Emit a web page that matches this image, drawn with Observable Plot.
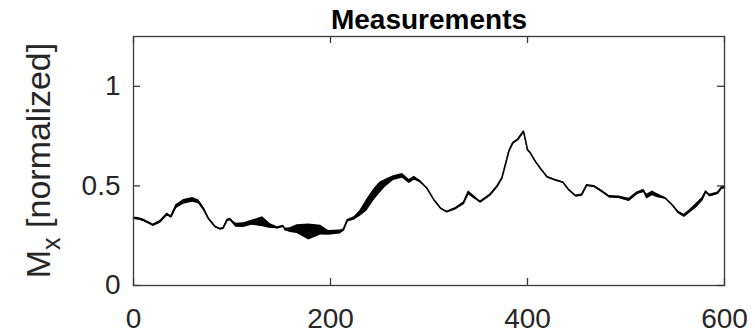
<!DOCTYPE html>
<html>
<head>
<meta charset="utf-8">
<script src="https://cdn.jsdelivr.net/npm/d3@7"></script>
<script src="https://cdn.jsdelivr.net/npm/@observablehq/plot@0.6"></script>
<style>
  html, body { margin: 0; padding: 0; background: white; }
</style>
</head>
<body>
<div id="chart"></div>
<script>
// sample positions (x) of the measurement trace
const xs = [0,5,10,20,27,34,38,43,51,60,66,71,76,83,88,91,95,98,104,112,120,131,139,146,152,154,159,166,178,190,198,210,213,217,224,230,237,244,250,256,264,273,280,285,291,298,305,312,318,327,335,340,345,352,362,369,374,378,381,385,390,396,400,403,408,413,420,428,436,442,449,455,460,468,476,483,493,503,511,518,521,527,532,540,547,553,559,564,572,577,581,585,593,597,600];
// normalized Mx value (centre of trace)
const mx = [0.338,0.335,0.328,0.303,0.32,0.358,0.345,0.395,0.42,0.43,0.42,0.387,0.337,0.295,0.284,0.288,0.328,0.332,0.303,0.303,0.315,0.32,0.298,0.29,0.298,0.281,0.278,0.283,0.269,0.278,0.264,0.269,0.278,0.325,0.337,0.362,0.404,0.455,0.49,0.514,0.539,0.55,0.522,0.539,0.522,0.488,0.43,0.387,0.37,0.387,0.413,0.466,0.446,0.42,0.455,0.497,0.539,0.615,0.673,0.715,0.732,0.774,0.682,0.665,0.623,0.589,0.545,0.53,0.518,0.48,0.45,0.455,0.503,0.497,0.471,0.446,0.443,0.43,0.463,0.475,0.446,0.463,0.45,0.438,0.404,0.368,0.35,0.37,0.404,0.43,0.471,0.452,0.463,0.49,0.492];
// half-amplitude of the fast oscillation around the trace
const osc = [0.006,0.006,0.006,0.006,0.006,0.006,0.006,0.01,0.012,0.012,0.01,0.01,0.006,0.004,0.003,0.003,0.004,0.006,0.01,0.012,0.012,0.025,0.012,0.005,0.004,0.006,0.012,0.022,0.04,0.025,0.012,0.01,0.006,0.006,0.008,0.015,0.03,0.03,0.028,0.02,0.012,0.012,0.01,0.01,0.006,0.004,0.003,0.003,0.003,0.004,0.006,0.01,0.008,0.004,0.004,0.004,0.003,0.003,0.003,0.003,0.003,0.003,0.004,0.004,0.004,0.003,0.003,0.003,0.003,0.003,0.004,0.004,0.004,0.005,0.006,0.006,0.006,0.008,0.006,0.008,0.012,0.012,0.01,0.004,0.004,0.006,0.008,0.008,0.012,0.01,0.006,0.006,0.006,0.006,0.006];
const xTicks = [0, 200, 400, 600];
const yTicks = [0, 0.5, 1];
const titleText = "Measurements";

const data = xs.map((x, i) => ({x, y: mx[i], lo: mx[i] - osc[i], hi: mx[i] + osc[i]}));

const W = 755, H = 335, mL = 133, mR = 31, mT = 36, mB = 50;
const pw = W - mL - mR, ph = H - mT - mB, tk = 7;

const plot = Plot.plot({
  width: W, height: H,
  marginLeft: mL, marginRight: mR, marginTop: mT, marginBottom: mB,
  x: {domain: [0, 600]},
  y: {domain: [0, 1.25]},
  style: {fontFamily: "'Liberation Sans', Arial, sans-serif", fontSize: "28px", color: "#262626", background: "white", overflow: "visible"},
  marks: [
    Plot.areaY(data, {x: "x", y1: "lo", y2: "hi", fill: "black"}),
    Plot.line(data, {x: "x", y: "y", stroke: "black", strokeWidth: 1.6}),
    Plot.frame({stroke: "#3a3a3a", strokeWidth: 1.3}),
    Plot.tickX(xTicks, {x: d => d, insetTop: ph - tk, stroke: "#3a3a3a", strokeWidth: 1.3}),
    Plot.tickX(xTicks, {x: d => d, insetBottom: ph - tk, stroke: "#3a3a3a", strokeWidth: 1.3}),
    Plot.tickY(yTicks, {y: d => d, insetRight: pw - tk, stroke: "#3a3a3a", strokeWidth: 1.3}),
    Plot.tickY(yTicks, {y: d => d, insetLeft: pw - tk, stroke: "#3a3a3a", strokeWidth: 1.3}),
    Plot.axisX(xTicks, {anchor: "bottom", tickSize: 0, tickPadding: 23, label: null, tickFormat: d => String(d), fontSize: 28}),
    Plot.axisY(yTicks, {anchor: "left", tickSize: 0, tickPadding: 13, label: null, tickFormat: d => String(d), fontSize: 28}),
    Plot.text([titleText], {text: d => d, frameAnchor: "top", dy: -8, lineAnchor: "bottom", fontWeight: "bold", fontSize: 28, fill: "black"})
  ]
});

// y-axis label with subscript
const lab = d3.select(plot).append("text")
  .attr("transform", `translate(50,${mT + ph / 2}) rotate(-90)`)
  .attr("text-anchor", "middle")
  .attr("fill", "#262626")
  .style("font-size", "34px")
  .style("font-family", "'Liberation Sans', Arial, sans-serif");
lab.append("tspan").text("M");
lab.append("tspan").attr("dy", 10).style("font-size", "25px").text("x");
lab.append("tspan").attr("dy", -10).text(" [normalized]");

document.getElementById("chart").appendChild(plot);
</script>
</body>
</html>
